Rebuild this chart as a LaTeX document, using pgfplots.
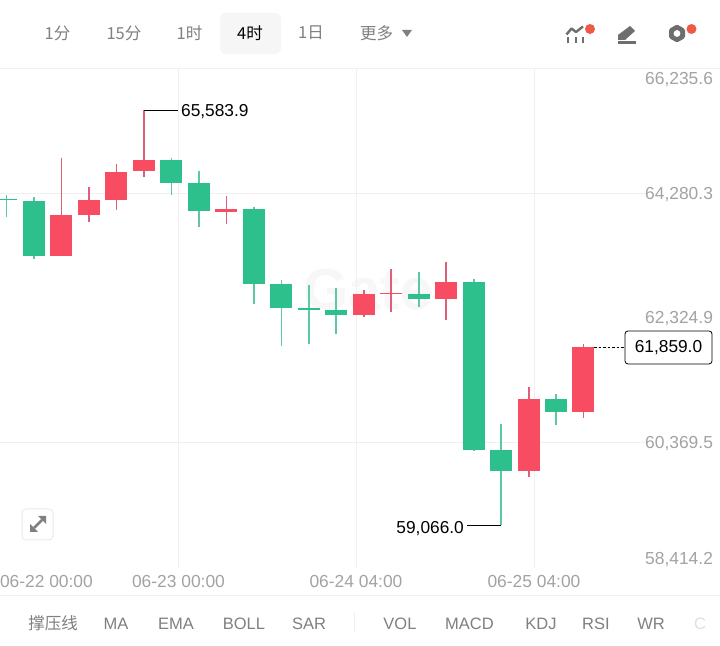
\documentclass[border=0pt]{standalone}
\usepackage{fontspec}
\setmainfont{Liberation Sans}
\newfontfamily\cjk{Noto Sans CJK SC}
\usepackage{pgfplots}
\pgfplotsset{compat=1.18}
\definecolor{upc}{HTML}{F74C62}
\definecolor{dnc}{HTML}{2EC08C}
\definecolor{upw}{HTML}{DD5F78}
\definecolor{dnw}{HTML}{5CC9A5}
\definecolor{gridc}{HTML}{F0F0F0}
\definecolor{axtxt}{HTML}{A3A3A3}
\definecolor{tabtxt}{HTML}{808080}
\definecolor{ico}{HTML}{6E6E6E}
\definecolor{dotc}{HTML}{EE5A45}
% x, body top, body bottom, high, low, colour
\newcommand\candle[6]{%
  \addplot[#6w,line width=1.6bp,line cap=butt] coordinates {(#1,#4)(#1,#5)};
  \addplot[#6c,line width=22bp,line cap=butt] coordinates {(#1,#2)(#1,#3)};
}
\newcommand\fs[1]{\fontsize{#1bp}{#1bp}\selectfont}
\begin{document}
\begin{tikzpicture}
\useasboundingbox (0,0) rectangle (720bp,646bp);
\clip (0,0) rectangle (720bp,646bp);
\fill[white] (0,0) rectangle (720bp,646bp);
\begin{scope}[x=1bp,y=-1bp,yshift=646bp]
  \node[text=black!3,font=\fs{58}\bfseries] at (368,290) {Gate};
\end{scope}
\begin{axis}[
  at={(0,78bp)},anchor=south west,
  scale only axis,width=645bp,height=499.2bp,
  xmin=0,xmax=645,ymin=58395.4,ymax=66235.6,
  clip mode=individual,
  scaled x ticks=false,scaled y ticks=false,
  axis line style={draw=none},
  major tick length=0pt,
  grid=major,grid style={gridc,line width=0.9bp},
  xtick={178.5,356,534},
  xticklabels={06-23 00:00,06-24 04:00,06-25 04:00},
  extra x ticks={0},
  extra x tick labels={\rlap{06-22 00:00}},
  extra x tick style={grid=none},
  ytick={60369.5,64280.3},
  yticklabels={{\raisebox{-6bp}{60,369.5}},{\raisebox{-6bp}{64,280.3}}},
  extra y ticks={58414.2,62324.9,66235.6},
  extra y tick labels={{\raisebox{2.5bp}{58,414.2}},{\raisebox{-6bp}{62,324.9}},{\raisebox{-15.5bp}{66,235.6}}},
  extra y tick style={grid=none},
  xticklabel pos=bottom,yticklabel pos=right,
  tick label style={font=\fs{17.4},text=axtxt,inner sep=0pt},
  x tick label style={anchor=base,yshift=-20bp},
  y tick label style={anchor=base west,xshift=0bp},
]
\candle{6.3}{64190.8}{64167.2}{64253.6}{63908.0}{dn}
\candle{34}{64159.3}{63290.9}{64217.5}{63243.7}{dn}
\candle{61.3}{63934.7}{63290.9}{64839.4}{63290.9}{up}
\candle{89}{64175.0}{63939.5}{64379.2}{63834.2}{up}
\candle{116.3}{64619.5}{64179.7}{64740.4}{64013.3}{up}
\candle{144}{64803.3}{64625.8}{65583.9}{64541.1}{up}
\candle{171.3}{64803.3}{64446.7}{64830.0}{64253.6}{dn}
\candle{199}{64442.0}{63997.6}{64635.3}{63755.8}{dn}
\candle{226.3}{64033.7}{63991.3}{64242.6}{63798.1}{up}
\candle{253.7}{64033.7}{62855.7}{64060.4}{62541.6}{dn}
\candle{281.3}{62855.7}{62474.1}{62913.9}{61882.0}{dn}
\candle{308.7}{62474.1}{62452.1}{62840.1}{61918.2}{dn}
\candle{336}{62452.1}{62364.1}{62792.9}{62075.2}{dn}
\candle{363.7}{62694.0}{62364.1}{62761.6}{62337.4}{up}
\candle{391}{62714.4}{62694.0}{63091.4}{62420.7}{up}
\candle{418.7}{62698.7}{62624.9}{63044.3}{62494.5}{dn}
\candle{446}{62887.2}{62624.9}{63196.5}{62285.7}{up}
\candle{473.7}{62887.2}{60253.2}{62929.5}{60237.6}{dn}
\candle{501}{60248.6}{59923.5}{60656.9}{59066.0}{dn}
\candle{528.7}{61044.8}{59923.5}{61242.8}{59819.9}{up}
\candle{556}{61044.8}{60850.1}{61128.1}{60645.9}{dn}
\candle{583.3}{61859.0}{60850.1}{61918.2}{60755.9}{up}
\addplot[black,line width=1bp] coordinates {(144,65583.9)(178,65583.9)};
\addplot[black,line width=1bp] coordinates {(501,59066.0)(467,59066.0)};
\addplot[black,line width=0.9bp,dash pattern=on 2.5bp off 2bp] coordinates {(594,61859.0)(625,61859.0)};
\node[anchor=west,inner sep=0pt,font=\fs{17.3},yshift=-1bp] at (axis cs:181,65583.9) {65,583.9};
\node[anchor=east,inner sep=0pt,font=\fs{17.3},yshift=-3.5bp] at (axis cs:464,59066.0) {59,066.0};
\node[anchor=center,draw=black,fill=white,rounded corners=3bp,line width=0.8bp,minimum width=87bp,minimum height=33bp,inner sep=0pt,font=\fs{17.3}] at (axis cs:668.5,61859.0) {61,859.0};
\end{axis}
\begin{scope}[x=1bp,y=-1bp,yshift=646bp]
  % rules
  \draw[gridc,line width=1bp] (0,68.5)--(720,68.5);
  \draw[gridc,line width=1bp] (0,595.7)--(720,595.7);
  % period tabs
  \fill[black!3.5!white,rounded corners=6bp] (220,13) rectangle (281,54);
  \begin{scope}[every node/.style={font=\cjk\fs{16.5},text=tabtxt,inner sep=0pt}]
    \node at (57.5,33) {1分};
    \node at (124,33) {15分};
    \node at (189.5,33) {1时};
    \node[text=black] at (250,33) {4时};
    \node at (311,33) {1日};
    \node at (376.5,33) {更多};
  \end{scope}
  \fill[tabtxt] (402,30)--(412,30)--(407,37)--cycle;
  % chart icon
  \begin{scope}[ico,line width=2.4bp]
    \draw (568,43.5)--(568,37);
    \draw (576,43.5)--(576,37);
    \draw (583,43.5)--(583,37);
    \draw[line join=round] (566.5,34.5)--(571.5,28.5)--(576,32)--(583,26.5);
  \end{scope}
  \fill[dotc] (590,29) circle (5bp);
  % pen icon
  \fill[ico] (618,40)--(618,35)--(630,26)--(635,31)--(625,40)--cycle;
  \fill[ico] (618,41)--(635.5,41)--(635.5,43.8)--(618,43.8)--cycle;
  % gear icon
  \fill[ico,rounded corners=1.5bp] (677,24.5)--(685,29)--(685,38)--(677,42.5)--(669,38)--(669,29)--cycle;
  \fill[white] (677,33.5) circle (3.4bp);
  \fill[dotc] (691.5,29) circle (5bp);
  % expand button
  \draw[black!8,fill=white,rounded corners=4bp,line width=1bp] (22,509) rectangle (53,540);
  \begin{scope}[tabtxt,line width=2.6bp]
    \draw (34,528)--(42,520);
    \fill (46,516)--(46,524)--(38,516)--cycle;
    \fill (30,532)--(30,524)--(38,532)--cycle;
  \end{scope}
  % indicator bar
  \draw[gridc,line width=1bp] (354,612)--(354,632);
  \begin{scope}[every node/.style={font=\fs{16.5},text=tabtxt,inner sep=0pt}]
    \node[font=\cjk\fs{16.5}] at (53,623) {撑压线};
    \node at (116,623.5) {MA};
    \node at (176,623.5) {EMA};
    \node at (244,623.5) {BOLL};
    \node at (309,623.5) {SAR};
    \node at (400,623.5) {VOL};
    \node at (469.5,623.5) {MACD};
    \node at (541,623.5) {KDJ};
    \node at (596,623.5) {RSI};
    \node at (651,623.5) {WR};
    \node[text=black!12] at (700,623.5) {C};
  \end{scope}
\end{scope}
\end{tikzpicture}
\end{document}
